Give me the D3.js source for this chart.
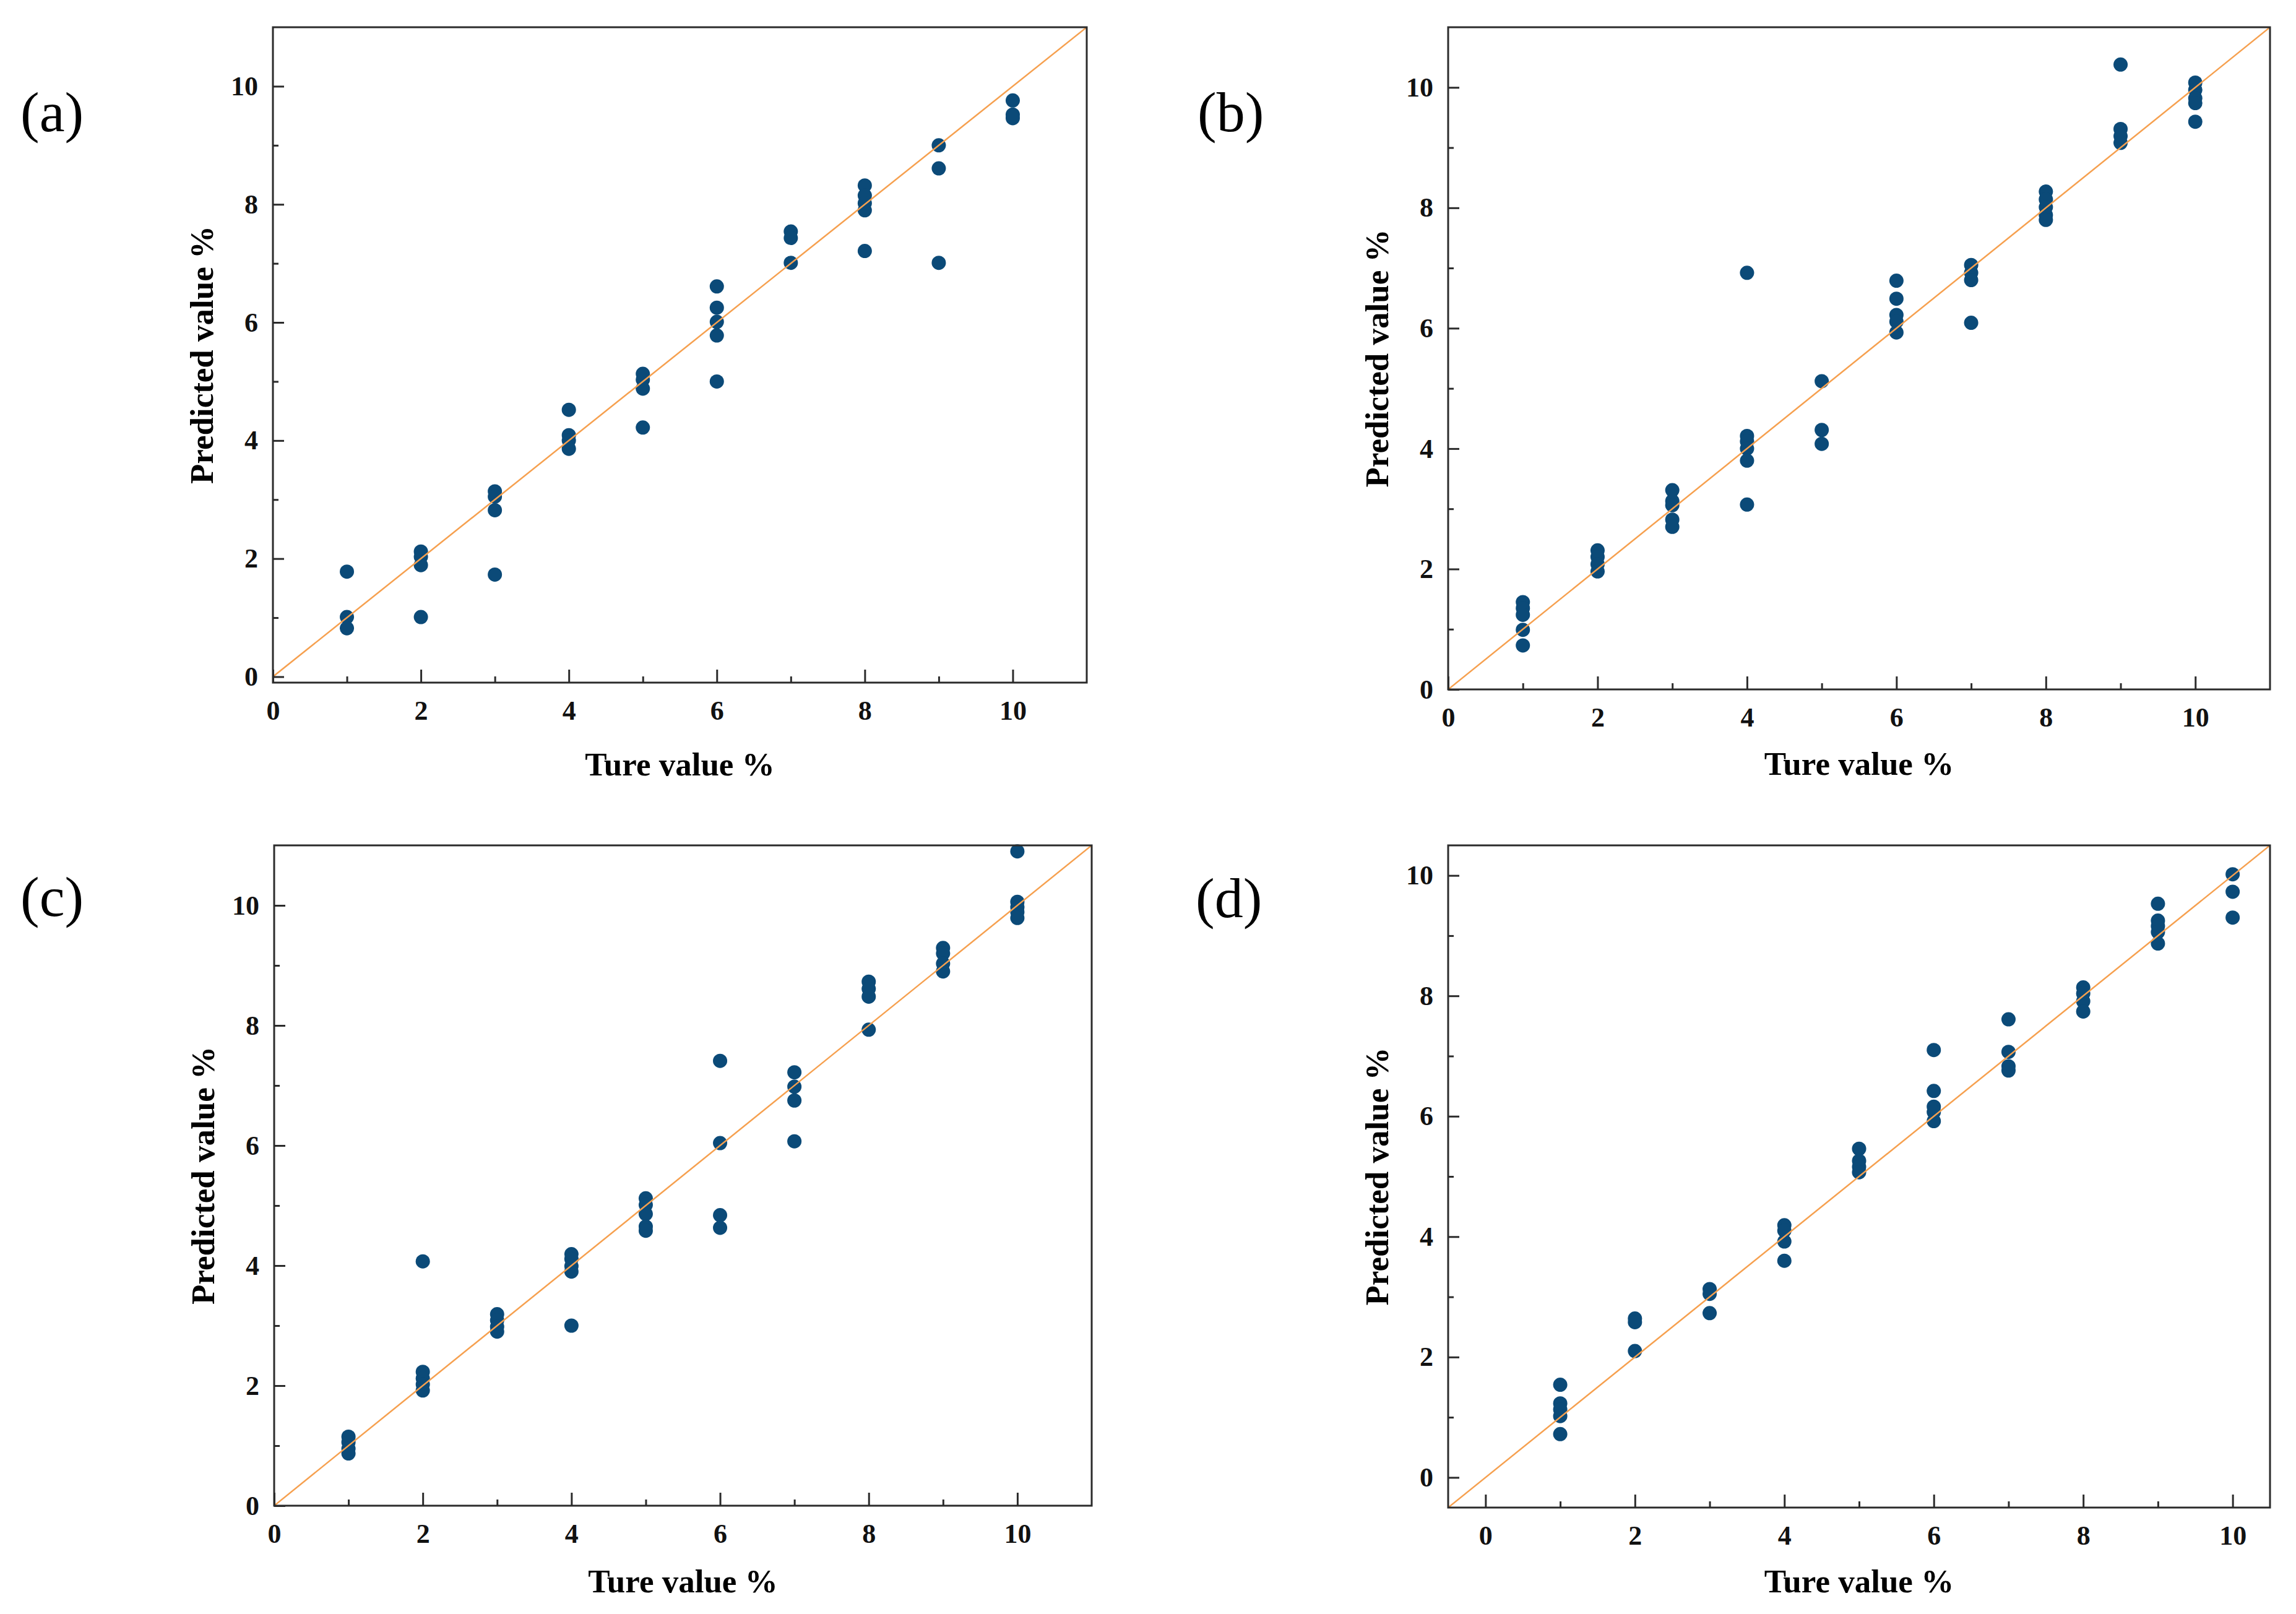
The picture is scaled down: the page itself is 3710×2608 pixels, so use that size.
<!DOCTYPE html>
<html>
<head>
<meta charset="utf-8">
<script src="https://cdn.jsdelivr.net/npm/d3@7"></script>
<style>
  body { margin: 0; background: #fff; }
  svg { display: block; }
  .tick text { font-family: "Liberation Serif", "Times New Roman", serif; font-weight: bold; }
</style>
</head>
<body>
<svg id="chart"></svg>
<script>
var W = 3710, H = 2608

// true values on the x axis
var trueValues = [1, 2, 3, 4, 5, 6, 7, 8, 9, 10]

// predicted values for each true value (one inner list per true value)
var predA = [
  [1.78, 1.01, 0.82], [2.12, 2.03, 1.89, 1.01], [3.14, 3.05, 2.82, 1.73],
  [4.52, 4.09, 4.0, 3.86], [5.13, 5.03, 4.88, 4.22], [6.61, 6.25, 6.01, 5.78, 5.0],
  [7.54, 7.43, 7.01], [8.32, 8.15, 8.02, 7.9, 7.21], [9.0, 8.61, 7.01], [9.76, 9.52, 9.46]
]
var predB = [
  [1.45, 1.35, 1.24, 0.99, 0.73], [2.31, 2.2, 2.08, 1.96], [3.31, 3.13, 3.06, 2.82, 2.7],
  [6.92, 4.21, 4.12, 4.0, 3.8, 3.07], [5.12, 4.31, 4.08], [6.79, 6.49, 6.22, 6.11, 5.93],
  [7.05, 6.92, 6.8, 6.09], [8.27, 8.14, 8.01, 7.88, 7.8], [10.38, 9.31, 9.19, 9.08],
  [10.08, 9.96, 9.82, 9.74, 9.43]
]
var predC = [
  [1.15, 1.06, 0.95, 0.87], [4.07, 2.23, 2.12, 2.02, 1.92], [3.19, 3.09, 2.98, 2.9],
  [4.19, 4.11, 3.99, 3.9, 3.0], [5.12, 5.01, 4.86, 4.65, 4.58], [7.41, 6.04, 4.84, 4.63],
  [7.22, 6.98, 6.75, 6.07], [8.73, 8.61, 8.48, 7.93], [9.29, 9.2, 9.03, 8.9],
  [10.9, 10.06, 9.97, 9.89, 9.79]
]
var predD = [
  [1.54, 1.23, 1.13, 1.02, 0.72], [2.64, 2.58, 2.1], [3.13, 3.05, 2.73],
  [4.19, 4.1, 3.92, 3.6], [5.46, 5.26, 5.16, 5.07], [7.1, 6.42, 6.16, 6.07, 5.92],
  [7.61, 7.07, 6.83, 6.76], [8.14, 8.04, 7.91, 7.74], [9.53, 9.25, 9.16, 9.06, 8.87],
  [10.02, 9.73, 9.3]
]

var majorTicks = [0, 2, 4, 6, 8, 10]
var minorTicks = [1, 3, 5, 7, 9]
var panelLabels = ["(a)", "(b)", "(c)", "(d)"]
var xTitle = "Ture value %"
var yTitle = "Predicted value %"

var xDomains = [[0, 11], [0, 11], [0, 11], [-0.5, 10.5]]
var yDomains = [[-0.1, 11], [0, 11], [0, 11], [-0.5, 10.5]]

// layout of the four panels in the page
var boxes = [
  {left: 441, right: 1756, top: 44, bottom: 1103, labX: 33, labY: 212, tOff: 150},
  {left: 2340, right: 3668, top: 44, bottom: 1114, labX: 1935, labY: 212, tOff: 138},
  {left: 443, right: 1764, top: 1366, bottom: 2433, labX: 33, labY: 1480, tOff: 140},
  {left: 2340, right: 3668, top: 1366, bottom: 2436, labX: 1932, labY: 1482, tOff: 137}
]

var dotColor = "#0b4a78", lineColor = "#f6a04f", axisColor = "#2b2b2b"
var serif = '"Liberation Serif", "Times New Roman", serif'

var svg = d3.select("#chart").attr("width", W).attr("height", H)

var allPreds = [predA, predB, predC, predD]

allPreds.forEach(function (pred, i) {
  var b = boxes[i]
  var x = d3.scaleLinear().domain(xDomains[i]).range([b.left, b.right])
  var y = d3.scaleLinear().domain(yDomains[i]).range([b.bottom, b.top])
  var g = svg.append("g")

  // flatten into points
  var pts = []
  trueValues.forEach(function (t, k) {
    pred[k].forEach(function (p) { pts.push({t: t, p: p}) })
  })

  g.append("clipPath").attr("id", "clip" + i)
    .append("rect")
    .attr("x", b.left).attr("y", b.top)
    .attr("width", b.right - b.left).attr("height", b.bottom - b.top)

  // points
  g.append("g").selectAll("circle")
    .data(pts)
    .enter()
    .append("circle")
    .attr("cx", function (d) { return x(d.t) })
    .attr("cy", function (d) { return y(d.p) })
    .attr("r", 11.5)
    .attr("fill", dotColor)

  // y = x reference line
  var lo = Math.max(xDomains[i][0], yDomains[i][0])
  var hi = Math.min(xDomains[i][1], yDomains[i][1])
  g.append("line")
    .attr("clip-path", "url(#clip" + i + ")")
    .attr("x1", x(lo)).attr("y1", y(lo))
    .attr("x2", x(hi)).attr("y2", y(hi))
    .attr("stroke", lineColor)
    .attr("stroke-width", 2.5)

  // x axis, inward ticks
  var xa = g.append("g").attr("transform", "translate(0," + b.bottom + ")")
  xa.call(d3.axisBottom(x).tickValues(majorTicks).tickSize(-21).tickPadding(29).tickFormat(d3.format("d")))
  var xm = g.append("g").attr("transform", "translate(0," + b.bottom + ")")
  xm.call(d3.axisBottom(x).tickValues(minorTicks).tickSize(-10).tickFormat(""))

  // y axis, inward ticks
  var ya = g.append("g").attr("transform", "translate(" + b.left + ",0)")
  ya.call(d3.axisLeft(y).tickValues(majorTicks).tickSize(-18).tickPadding(24).tickFormat(d3.format("d")))
  var ym = g.append("g").attr("transform", "translate(" + b.left + ",0)")
  ym.call(d3.axisLeft(y).tickValues(minorTicks).tickSize(-9).tickFormat(""))

  g.selectAll(".domain").remove()
  g.selectAll(".tick line").attr("stroke", axisColor).attr("stroke-width", 3)
  g.selectAll(".tick text").attr("font-size", 44).attr("fill", "#111")

  // frame
  g.append("rect")
    .attr("x", b.left).attr("y", b.top)
    .attr("width", b.right - b.left).attr("height", b.bottom - b.top)
    .attr("fill", "none")
    .attr("stroke", axisColor)
    .attr("stroke-width", 3)

  // axis titles
  g.append("text")
    .attr("x", (b.left + b.right) / 2)
    .attr("y", b.bottom + b.tOff)
    .attr("text-anchor", "middle")
    .style("font-family", serif).style("font-weight", "bold").style("font-size", "53px")
    .text(xTitle)

  g.append("text")
    .attr("transform", "translate(" + (b.left - 97) + "," + ((b.top + b.bottom) / 2) + ") rotate(-90)")
    .attr("text-anchor", "middle")
    .style("font-family", serif).style("font-weight", "bold").style("font-size", "53px")
    .text(yTitle)

  // panel letter
  g.append("text")
    .attr("x", b.labX).attr("y", b.labY)
    .style("font-family", serif).style("font-size", "92px")
    .text(panelLabels[i])
})
</script>
</body>
</html>
